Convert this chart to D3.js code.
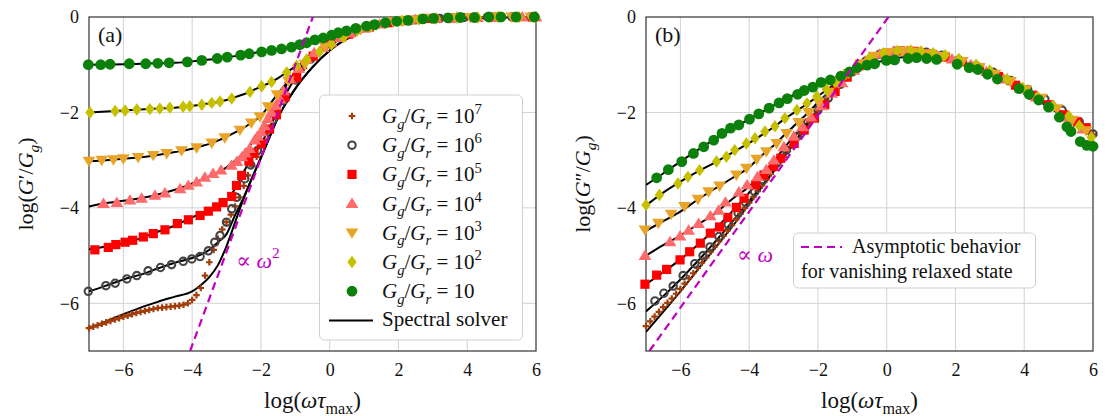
<!DOCTYPE html>
<html>
<head>
<meta charset="utf-8">
<script src="https://cdn.jsdelivr.net/npm/d3@7"></script>
<style>
  body { margin: 0; background: #fff; }
  svg text { font-family: "Liberation Serif", "DejaVu Serif", serif; fill: #111; }
</style>
</head>
<body>
<div id="chart"></div>
<script>
// ---- values (log10 scale) ----
const xTicks = [-6, -4, -2, 0, 2, 4, 6];
const yTicks = [-6, -4, -2, 0];
const ratioExp = [7, 6, 5, 4, 3, 2, 1];

// spectral solver curves, sampled on one frequency grid
const solverX = [-7,-6.5,-6,-5.5,-5,-4.5,-4,-3.75,-3.5,-3.25,-3,-2.75,-2.5,-2.25,-2,-1.75,-1.5,-1.25,-1,-0.5,0,0.5,1,1.5,2,3,4,5,6];
const storSolver1 = [-1.0,-0.995,-0.99,-0.98,-0.97,-0.96,-0.93,-0.91,-0.89,-0.87,-0.84,-0.82,-0.79,-0.76,-0.73,-0.71,-0.68,-0.65,-0.61,-0.5,-0.39,-0.29,-0.2,-0.13,-0.08,-0.03,-0.01,0,0];
const storSolver2 = [-2.0,-1.98,-1.96,-1.94,-1.92,-1.9,-1.86,-1.84,-1.81,-1.78,-1.74,-1.68,-1.62,-1.54,-1.46,-1.38,-1.28,-1.16,-1.04,-0.83,-0.6,-0.38,-0.24,-0.15,-0.09,-0.03,-0.01,0,0];
const storSolver3 = [-3.02,-3.0,-2.97,-2.94,-2.89,-2.83,-2.76,-2.71,-2.66,-2.59,-2.51,-2.42,-2.32,-2.2,-2.07,-1.84,-1.6,-1.38,-1.17,-0.85,-0.56,-0.38,-0.23,-0.15,-0.09,-0.03,-0.01,0,0];
const storSolver4 = [-3.97,-3.9,-3.85,-3.8,-3.72,-3.62,-3.49,-3.42,-3.34,-3.25,-3.15,-3.01,-2.85,-2.63,-2.4,-2.05,-1.76,-1.42,-1.17,-0.82,-0.56,-0.37,-0.23,-0.15,-0.09,-0.03,-0.01,0,0];
const storSolver5 = [-4.87,-4.81,-4.74,-4.64,-4.5,-4.37,-4.2,-4.13,-4.07,-3.98,-3.84,-3.6,-3.25,-2.92,-2.66,-2.32,-1.95,-1.58,-1.28,-0.87,-0.57,-0.37,-0.23,-0.15,-0.09,-0.03,-0.01,0,0];
const storSolver6 = [-5.75,-5.63,-5.5,-5.4,-5.27,-5.15,-5.05,-4.98,-4.88,-4.72,-4.55,-4.15,-3.78,-3.36,-2.95,-2.52,-2.1,-1.78,-1.5,-1.05,-0.7,-0.46,-0.29,-0.18,-0.1,-0.04,-0.015,-0.005,0];
const storSolver7 = [-6.53,-6.38,-6.23,-6.09,-5.97,-5.86,-5.75,-5.62,-5.45,-5.2,-4.8,-4.3,-3.8,-3.36,-2.95,-2.52,-2.1,-1.78,-1.5,-1.05,-0.7,-0.46,-0.29,-0.18,-0.1,-0.04,-0.015,-0.005,0];

const lossSolver1 = [-3.52,-3.28,-3.03,-2.79,-2.56,-2.35,-2.14,-2.04,-1.94,-1.84,-1.74,-1.65,-1.57,-1.49,-1.4,-1.34,-1.27,-1.2,-1.1,-0.99,-0.9,-0.84,-0.82,-0.85,-0.93,-1.2,-1.58,-2.02,-2.52];
const lossSolver2 = [-3.95,-3.68,-3.45,-3.24,-3.05,-2.85,-2.64,-2.53,-2.41,-2.29,-2.15,-2.03,-1.91,-1.79,-1.66,-1.53,-1.4,-1.26,-1.12,-0.9,-0.77,-0.72,-0.74,-0.8,-0.9,-1.18,-1.56,-2.0,-2.5];
const lossSolver3 = [-4.48,-4.28,-4.08,-3.83,-3.6,-3.38,-3.15,-2.98,-2.82,-2.67,-2.49,-2.32,-2.15,-1.98,-1.79,-1.62,-1.45,-1.29,-1.14,-0.9,-0.77,-0.72,-0.74,-0.8,-0.9,-1.18,-1.56,-2.0,-2.5];
const lossSolver4 = [-5.0,-4.78,-4.58,-4.35,-4.12,-3.82,-3.55,-3.38,-3.2,-3.0,-2.76,-2.55,-2.36,-2.16,-1.94,-1.73,-1.52,-1.31,-1.14,-0.9,-0.77,-0.72,-0.74,-0.8,-0.9,-1.18,-1.56,-2.0,-2.5];
const lossSolver5 = [-5.6,-5.35,-5.08,-4.78,-4.45,-4.08,-3.68,-3.47,-3.28,-3.08,-2.88,-2.67,-2.44,-2.2,-1.96,-1.74,-1.52,-1.32,-1.14,-0.9,-0.77,-0.72,-0.74,-0.8,-0.9,-1.18,-1.56,-2.0,-2.5];
const lossSolver6 = [-6.17,-5.85,-5.5,-5.12,-4.72,-4.3,-3.86,-3.64,-3.42,-3.18,-2.94,-2.7,-2.45,-2.2,-1.96,-1.74,-1.52,-1.32,-1.14,-0.9,-0.77,-0.72,-0.74,-0.8,-0.9,-1.18,-1.56,-2.0,-2.5];
const lossSolver7 = [-6.6,-6.18,-5.75,-5.3,-4.85,-4.4,-3.92,-3.68,-3.44,-3.2,-2.95,-2.7,-2.45,-2.2,-1.96,-1.74,-1.52,-1.32,-1.14,-0.9,-0.77,-0.72,-0.74,-0.8,-0.9,-1.18,-1.56,-2.0,-2.48];

// asymptotes for vanishing relaxed state
const asymStorX = [-4.06, -0.49], asymStorY = [-7, 0];
const asymLossX = [-6.9, 0.05],  asymLossY = [-7, 0];

// marker data, panel (a): log(G'/Gg)
const storGreenX = [-7.02,-6.66,-6.39,-5.83,-5.35,-5.0,-4.67,-4.14,-3.72,-3.27,-2.98,-2.59,-2.34,-1.98,-1.69,-1.40,-1.11,-0.87,-0.67,-0.43,-0.19,0.06,0.25,0.49,0.76,1.07,1.31,1.62,1.95,2.28,2.71,3.02,3.44,3.80,4.21,4.63,4.98,5.42,5.95];
const storGreenY = [-1.0,-1.0,-0.99,-0.98,-0.98,-0.97,-0.96,-0.94,-0.91,-0.87,-0.84,-0.80,-0.77,-0.73,-0.70,-0.67,-0.63,-0.58,-0.54,-0.48,-0.44,-0.38,-0.33,-0.29,-0.24,-0.19,-0.16,-0.12,-0.09,-0.07,-0.04,-0.03,-0.02,-0.01,-0.01,0,0,0,0];
const storYellowX = [-6.97,-6.24,-5.95,-5.61,-5.23,-4.94,-4.65,-4.26,-4.07,-3.72,-3.43,-3.19,-2.85,-2.32,-1.98,-1.69,-1.25,-0.96,-0.67,-0.3,0.05,0.39,0.8,1.2,1.6,2.1,2.6,3.1,3.7,4.3,4.9,5.5,6.0];
const storYellowY = [-2.0,-1.97,-1.96,-1.94,-1.93,-1.92,-1.9,-1.88,-1.87,-1.84,-1.8,-1.77,-1.71,-1.57,-1.45,-1.36,-1.16,-1.02,-0.89,-0.73,-0.58,-0.42,-0.29,-0.2,-0.13,-0.08,-0.05,-0.03,-0.01,-0.01,0,0,0];
const storOrangeX = [-7.0,-6.63,-6.29,-6.0,-5.57,-5.13,-4.74,-4.31,-3.87,-3.43,-3.05,-2.61,-2.28,-2.03,-1.79,-1.53,-1.2,-0.72,-0.14,0.44,0.9,1.35,1.85,2.4,2.95,3.5,4.1,4.7,5.3,5.85];
const storOrangeY = [-3.02,-3.0,-2.99,-2.97,-2.94,-2.9,-2.86,-2.8,-2.74,-2.64,-2.53,-2.37,-2.22,-2.09,-1.88,-1.63,-1.34,-0.99,-0.62,-0.41,-0.26,-0.17,-0.1,-0.06,-0.03,-0.02,-0.01,0,0,0];
const storPinkX = [-6.58,-6.19,-5.81,-5.47,-5.08,-4.79,-4.35,-4.11,-3.87,-3.63,-3.39,-3.16,-2.86,-2.7,-2.55,-2.45,-2.33,-2.18,-2.1,-1.99,-1.9,-1.8,-1.7,-1.56,-1.45,-1.35,-1.16,-0.9,-0.67,-0.45,-0.19,0.05,0.3,0.6,1.0,1.45,2.0,2.5,3.1,3.7,4.3,4.9,5.6,6.0];
const storPinkY = [-3.91,-3.89,-3.84,-3.8,-3.74,-3.69,-3.6,-3.53,-3.46,-3.36,-3.28,-3.21,-3.11,-3.03,-2.93,-2.85,-2.76,-2.58,-2.5,-2.41,-2.28,-2.13,-2.0,-1.85,-1.72,-1.55,-1.3,-1.08,-0.89,-0.75,-0.64,-0.53,-0.43,-0.34,-0.24,-0.15,-0.09,-0.05,-0.03,-0.01,-0.01,0,0,0];
const storRedX = [-6.83,-6.44,-6.22,-5.95,-5.73,-5.42,-5.13,-4.79,-4.43,-4.11,-3.77,-3.53,-3.29,-3.1,-2.85,-2.71,-2.56,-2.35,-2.2,-1.99,-1.75,-1.55,-1.3,-0.96,-0.48,0.0,0.55,1.15,1.7,2.3,2.9,3.55,4.2,4.8,5.4,5.9];
const storRedY = [-4.88,-4.83,-4.77,-4.72,-4.68,-4.61,-4.54,-4.46,-4.33,-4.25,-4.16,-4.07,-3.98,-3.89,-3.76,-3.53,-3.32,-3.02,-2.85,-2.65,-2.35,-2.05,-1.68,-1.27,-0.82,-0.56,-0.36,-0.21,-0.12,-0.07,-0.03,-0.02,-0.01,0,0,0];
const storGrayX = [-7.02,-6.51,-6.24,-5.9,-5.61,-5.28,-4.92,-4.6,-4.26,-4.01,-3.77,-3.53,-3.34,-3.19,-3.0,-2.85,-2.71,-2.47,-2.3,-2.1,-1.9,-1.65,-1.35,-1.0,-0.55,0.0,0.6,1.2,1.8,2.5,3.2,3.9,4.6,5.3,5.9];
const storGrayY = [-5.75,-5.63,-5.58,-5.49,-5.42,-5.32,-5.25,-5.19,-5.12,-5.07,-5.02,-4.9,-4.72,-4.58,-4.3,-4.02,-3.78,-3.39,-3.1,-2.8,-2.5,-2.15,-1.75,-1.32,-0.88,-0.56,-0.34,-0.2,-0.11,-0.06,-0.03,-0.01,0,0,0];
const brownX = [-7,-6.875,-6.75,-6.625,-6.5,-6.375,-6.25,-6.125,-6,-5.875,-5.75,-5.625,-5.5,-5.375,-5.25,-5.125,-5,-4.875,-4.75,-4.625,-4.5,-4.375,-4.25,-4.125,-4,-3.875,-3.75,-3.625,-3.5,-3.375,-3.25,-3.125,-3,-2.875,-2.75,-2.625,-2.5,-2.375,-2.25,-2.125,-2,-1.75,-1.5,-1.25,-1,-0.75,-0.5,-0.25,0,0.25,0.5,0.75,1,1.25,1.5,1.75,2,2.25,2.5,2.75,3,3.25,3.5,3.75,4,4.25,4.5,4.75,5,5.25,5.5,5.75,6];
const storBrownY = [-6.52,-6.49,-6.46,-6.43,-6.4,-6.37,-6.34,-6.31,-6.28,-6.26,-6.23,-6.2,-6.18,-6.16,-6.14,-6.12,-6.1,-6.09,-6.08,-6.07,-6.06,-6.05,-6.03,-6.0,-5.93,-5.83,-5.68,-5.42,-5.14,-4.88,-4.65,-4.45,-4.3,-4.14,-3.97,-3.78,-3.54,-3.32,-3.12,-2.93,-2.74,-2.33,-1.96,-1.62,-1.32,-1.07,-0.86,-0.7,-0.56,-0.45,-0.36,-0.29,-0.23,-0.18,-0.14,-0.11,-0.08,-0.06,-0.05,-0.04,-0.03,-0.02,-0.02,-0.01,-0.01,-0.01,0,0,0,0,0,0,0];

// marker data, panel (b): log(G''/Gg)
const lossGreenX = [-6.69,-6.35,-5.96,-5.62,-5.32,-5.03,-4.79,-4.54,-4.3,-3.99,-3.72,-3.42,-3.13,-2.89,-2.59,-2.4,-2.15,-1.91,-1.64,-1.33,-1.08,-0.86,-0.57,-0.35,-0.01,0.23,0.62,0.87,1.16,1.45,2.05,2.4,2.65,2.93,3.22,3.85,4.14,4.42,4.71,5.02,5.24,5.36,5.63,5.82,6.0];
const lossGreenY = [-3.37,-3.2,-3.03,-2.86,-2.72,-2.58,-2.44,-2.33,-2.26,-2.14,-2.03,-1.91,-1.8,-1.71,-1.62,-1.54,-1.47,-1.37,-1.32,-1.24,-1.15,-1.06,-1.01,-0.98,-0.91,-0.9,-0.87,-0.85,-0.87,-0.89,-0.99,-1.06,-1.1,-1.2,-1.3,-1.5,-1.62,-1.74,-1.89,-2.1,-2.3,-2.4,-2.61,-2.69,-2.71];
const lossYellowX = [-7.0,-6.61,-6.07,-5.78,-5.44,-4.95,-4.66,-4.42,-4.08,-3.83,-3.54,-3.25,-2.96,-2.61,-2.32,-2.03,-1.75,-1.5,-1.2,-0.85,-0.5,-0.1,0.3,0.7,1.0,1.35,1.7,2.1,2.6,3.0,3.5,3.95,4.4,4.85,5.3,5.6,5.95];
const lossYellowY = [-3.94,-3.73,-3.49,-3.35,-3.21,-3.03,-2.93,-2.79,-2.65,-2.54,-2.4,-2.29,-2.12,-1.95,-1.81,-1.66,-1.52,-1.37,-1.2,-1.0,-0.86,-0.76,-0.71,-0.7,-0.72,-0.76,-0.8,-0.88,-1.0,-1.12,-1.3,-1.48,-1.68,-1.86,-2.08,-2.28,-2.52];
const lossOrangeX = [-7.03,-6.64,-6.27,-5.88,-5.49,-5.18,-4.86,-4.37,-4.08,-3.78,-3.5,-3.2,-2.91,-2.56,-2.27,-1.98,-1.7,-1.4,-1.1,-0.75,-0.35,0.05,0.45,0.85,1.25,1.65,2.2,2.7,3.15,3.6,4.05,4.5,4.95,5.4,5.8];
const lossOrangeY = [-4.46,-4.32,-4.13,-3.97,-3.82,-3.66,-3.54,-3.31,-3.17,-2.98,-2.82,-2.65,-2.44,-2.21,-2.0,-1.78,-1.58,-1.38,-1.18,-0.98,-0.82,-0.74,-0.71,-0.73,-0.77,-0.82,-0.93,-1.06,-1.2,-1.35,-1.52,-1.7,-1.92,-2.16,-2.38];
const lossPinkX = [-7.03,-6.3,-6.01,-5.76,-5.47,-5.13,-4.89,-4.69,-4.3,-4.06,-3.76,-3.5,-3.28,-2.99,-2.7,-2.45,-2.2,-1.9,-1.6,-1.3,-0.95,-0.6,-0.2,0.2,0.6,1.0,1.45,1.9,2.45,2.9,3.4,3.9,4.35,4.8,5.25,5.7];
const lossPinkY = [-5.0,-4.71,-4.59,-4.47,-4.33,-4.17,-4.05,-3.88,-3.67,-3.52,-3.35,-3.2,-3.0,-2.72,-2.5,-2.3,-2.1,-1.86,-1.6,-1.38,-1.12,-0.92,-0.78,-0.72,-0.71,-0.74,-0.8,-0.88,-1.0,-1.14,-1.3,-1.5,-1.68,-1.88,-2.1,-2.35];
const lossRedX = [-7.03,-6.69,-6.4,-6.01,-5.73,-5.42,-5.13,-4.86,-4.62,-4.37,-4.15,-3.81,-3.57,-3.3,-3.08,-2.69,-2.4,-2.1,-1.8,-1.5,-1.15,-0.8,-0.4,0.0,0.4,0.8,1.25,1.7,2.2,2.7,3.25,3.75,4.25,4.7,5.15,5.55,5.8];
const lossRedY = [-5.6,-5.41,-5.29,-5.09,-4.92,-4.74,-4.53,-4.4,-4.2,-3.99,-3.8,-3.52,-3.31,-3.13,-2.96,-2.65,-2.37,-2.12,-1.84,-1.56,-1.26,-1.02,-0.84,-0.75,-0.71,-0.72,-0.77,-0.84,-0.94,-1.07,-1.25,-1.43,-1.64,-1.84,-2.05,-2.2,-2.32];
const lossGrayX = [-6.74,-6.48,-6.21,-5.92,-5.58,-5.34,-5.14,-4.88,-4.61,-4.32,-4.1,-3.84,-3.6,-3.21,-2.92,-2.6,-2.3,-2.0,-1.7,-1.35,-1.0,-0.6,-0.2,0.25,0.7,1.15,1.6,2.1,2.6,3.1,3.6,4.1,4.6,5.1,5.6,6.0];
const lossGrayY = [-5.95,-5.79,-5.64,-5.42,-5.17,-5.0,-4.82,-4.6,-4.35,-4.11,-3.89,-3.66,-3.42,-3.07,-2.79,-2.5,-2.22,-1.95,-1.7,-1.41,-1.15,-0.92,-0.78,-0.72,-0.71,-0.74,-0.8,-0.9,-1.02,-1.16,-1.33,-1.52,-1.72,-1.95,-2.2,-2.45];
const lossBrownY = [-6.48,-6.38,-6.28,-6.18,-6.08,-5.99,-5.9,-5.8,-5.7,-5.59,-5.48,-5.37,-5.26,-5.15,-5.04,-4.92,-4.81,-4.7,-4.59,-4.47,-4.36,-4.24,-4.12,-4.0,-3.89,-3.77,-3.65,-3.53,-3.41,-3.29,-3.17,-3.05,-2.93,-2.81,-2.69,-2.57,-2.45,-2.33,-2.21,-2.09,-1.97,-1.75,-1.53,-1.33,-1.15,-1.0,-0.89,-0.8,-0.75,-0.72,-0.71,-0.72,-0.74,-0.77,-0.81,-0.85,-0.9,-0.96,-1.03,-1.1,-1.18,-1.27,-1.36,-1.46,-1.56,-1.66,-1.76,-1.87,-1.98,-2.1,-2.22,-2.34,-2.46];

// ---- series table (drawing order: 10^7 first, 10 last) ----
const zip = (xs, ys) => xs.slice(0, Math.min(xs.length, ys.length)).map((x, i) => [x, ys[i]]);
const series = [
  {exp: 7, shape: 'plus',    color: '#a33d0c', stor: zip(brownX, storBrownY),      loss: zip(brownX, lossBrownY),      sS: storSolver7, sL: lossSolver7},
  {exp: 6, shape: 'ring',    color: '#454545', stor: zip(storGrayX, storGrayY),    loss: zip(lossGrayX, lossGrayY),    sS: storSolver6, sL: lossSolver6},
  {exp: 5, shape: 'square',  color: '#ff0000', stor: zip(storRedX, storRedY),      loss: zip(lossRedX, lossRedY),      sS: storSolver5, sL: lossSolver5},
  {exp: 4, shape: 'tri',     color: '#ff6b6b', stor: zip(storPinkX, storPinkY),    loss: zip(lossPinkX, lossPinkY),    sS: storSolver4, sL: lossSolver4},
  {exp: 3, shape: 'tridown', color: '#e8a428', stor: zip(storOrangeX, storOrangeY),loss: zip(lossOrangeX, lossOrangeY),sS: storSolver3, sL: lossSolver3},
  {exp: 2, shape: 'diamond', color: '#c6c000', stor: zip(storYellowX, storYellowY),loss: zip(lossYellowX, lossYellowY),sS: storSolver2, sL: lossSolver2},
  {exp: 1, shape: 'dot',     color: '#0b800b', stor: zip(storGreenX, storGreenY),  loss: zip(lossGreenX, lossGreenY),  sS: storSolver1, sL: lossSolver1}
];

const width = 1108, height = 416;
const plotTop = 17, plotBottom = 351;
const magenta = '#c000c0';

const svg = d3.select('#chart').append('svg')
  .attr('width', width)
  .attr('height', height);

function markerPath(shape, cx, cy) {
  const circ = r => `M${cx + r},${cy}A${r},${r} 0 1,1 ${cx - r},${cy}A${r},${r} 0 1,1 ${cx + r},${cy}Z`;
  switch (shape) {
    case 'plus':    return `M${cx - 3.3},${cy}h6.6M${cx},${cy - 3.3}v6.6`;
    case 'ring':    return circ(3.7);
    case 'square':  return `M${cx - 4.6},${cy - 4.6}h9.2v9.2h-9.2Z`;
    case 'tri':     return `M${cx},${cy - 6}L${cx + 6.4},${cy + 4.4}L${cx - 6.4},${cy + 4.4}Z`;
    case 'tridown': return `M${cx},${cy + 6}L${cx + 6.4},${cy - 4.4}L${cx - 6.4},${cy - 4.4}Z`;
    case 'diamond': return `M${cx},${cy - 6.2}L${cx + 4.7},${cy}L${cx},${cy + 6.2}L${cx - 4.7},${cy}Z`;
    default:        return circ(5.4);
  }
}
function styleMarker(sel, s) {
  if (s.shape === 'plus') sel.attr('fill', 'none').attr('stroke', s.color).attr('stroke-width', 2.2);
  else if (s.shape === 'ring') sel.attr('fill', 'none').attr('stroke', s.color).attr('stroke-width', 2.1);
  else sel.attr('fill', s.color).attr('stroke', 'none');
}

// rich text: parts with italic / sub / sup
function rich(text, parts, size) {
  let shift = 0;
  parts.forEach(p => {
    const off = p.sub ? size * 0.27 : p.sup ? -size * 0.42 : 0;
    text.append('tspan')
      .attr('dy', off - shift)
      .style('font-size', (p.sub || p.sup ? size * 0.7 : size) + 'px')
      .style('font-style', p.i ? 'italic' : 'normal')
      .text(p.t);
    shift = off;
  });
}

function drawPanel(cfg) {
  const x = d3.scaleLinear().domain([-7, 6]).range([cfg.left, cfg.right]);
  const y = d3.scaleLinear().domain([-7, 0]).range([plotBottom, plotTop]);
  const g = svg.append('g');

  g.append('clipPath').attr('id', 'clip' + cfg.id)
    .append('rect').attr('x', cfg.left).attr('y', plotTop)
    .attr('width', cfg.right - cfg.left).attr('height', plotBottom - plotTop);

  // grid
  g.append('g').selectAll('line').data(xTicks.filter(t => t > -7 && t < 6)).join('line')
    .attr('x1', d => x(d)).attr('x2', d => x(d)).attr('y1', plotTop).attr('y2', plotBottom)
    .attr('stroke', '#d2d2d2').attr('stroke-width', 1);
  g.append('g').selectAll('line').data(yTicks.filter(t => t > -7 && t < 0)).join('line')
    .attr('y1', d => y(d)).attr('y2', d => y(d)).attr('x1', cfg.left).attr('x2', cfg.right)
    .attr('stroke', '#d2d2d2').attr('stroke-width', 1);

  // frame
  g.append('rect').attr('x', cfg.left).attr('y', plotTop)
    .attr('width', cfg.right - cfg.left).attr('height', plotBottom - plotTop)
    .attr('fill', 'none').attr('stroke', '#333').attr('stroke-width', 1.2);

  // tick labels
  const fmt = d3.format('d');
  const xa = g.append('g').attr('transform', `translate(0,${plotBottom})`)
    .call(d3.axisBottom(x).tickValues(xTicks).tickFormat(fmt).tickSize(0).tickPadding(12));
  const ya = g.append('g').attr('transform', `translate(${cfg.left},0)`)
    .call(d3.axisLeft(y).tickValues(yTicks).tickFormat(fmt).tickSize(0).tickPadding(10));
  [xa, ya].forEach(a => {
    a.select('.domain').remove();
    a.attr('font-family', null).attr('font-size', 18);
    a.selectAll('text').attr('fill', '#111');
  });

  // solver lines
  const line = d3.line().x(d => x(d[0])).y(d => y(d[1])).curve(d3.curveMonotoneX);
  const lines = g.append('g').attr('clip-path', `url(#clip${cfg.id})`);
  series.forEach(s => {
    lines.append('path').datum(zip(solverX, s[cfg.solver]))
      .attr('d', line).attr('fill', 'none').attr('stroke', '#000').attr('stroke-width', 2);
  });

  // markers
  series.forEach(s => {
    const m = g.append('g');
    m.selectAll('path').data(s[cfg.key]).join('path')
      .attr('d', d => markerPath(s.shape, x(d[0]), y(d[1])))
      .call(styleMarker, s);
  });

  // asymptote
  g.append('path').attr('clip-path', `url(#clip${cfg.id})`)
    .datum(zip(cfg.asymX, cfg.asymY))
    .attr('d', d3.line().x(d => x(d[0])).y(d => y(d[1])))
    .attr('fill', 'none').attr('stroke', magenta).attr('stroke-width', 2.2)
    .attr('stroke-dasharray', '8,5');

  // panel tag
  g.append('text').attr('x', cfg.left + 9).attr('y', plotTop + 25)
    .style('font-size', '22px').text(`(${cfg.id})`);

  // axis labels
  const xl = g.append('text').attr('x', (cfg.left + cfg.right) / 2).attr('y', 408)
    .attr('text-anchor', 'middle');
  rich(xl, [{t: 'log('}, {t: 'ωτ', i: true}, {t: 'max', sub: true}, {t: ')'}], 23);

  const yl = g.append('text')
    .attr('transform', `translate(${cfg.left - 56},${(plotTop + plotBottom) / 2}) rotate(-90)`)
    .attr('text-anchor', 'middle');
  rich(yl, [{t: 'log('}, {t: 'G', i: true}, {t: cfg.prime}, {t: '/'}, {t: 'G', i: true},
            {t: 'g', i: true, sub: true}, {t: ')'}], 22);

  // slope note
  const note = g.append('text').attr('x', x(cfg.note[0])).attr('y', y(cfg.note[1]));
  rich(note, cfg.noteParts, 22);
  note.selectAll('tspan').style('fill', magenta);

  return {x, y, g};
}

drawPanel({id: 'a', left: 89, right: 536, key: 'stor', solver: 'sS', prime: '′',
  asymX: asymStorX, asymY: asymStorY, note: [-2.72, -5.25],
  noteParts: [{t: '∝ '}, {t: 'ω', i: true}, {t: '2', sup: true}]});
drawPanel({id: 'b', left: 646, right: 1093, key: 'loss', solver: 'sL', prime: '″',
  asymX: asymLossX, asymY: asymLossY, note: [-4.35, -5.13],
  noteParts: [{t: '∝ '}, {t: 'ω', i: true}]});

// legend (a)
const lg = svg.append('g');
lg.append('rect').attr('x', 319.5).attr('y', 95).attr('width', 203).attr('height', 245)
  .attr('rx', 5).attr('fill', '#fff').attr('stroke', '#cfcfcf').attr('stroke-width', 1);
series.forEach((s, i) => {
  const ry = 116 + i * 29.2;
  lg.append('path').attr('d', markerPath(s.shape, 352, ry)).call(styleMarker, s);
  const t = lg.append('text').attr('x', 382).attr('y', ry + 7);
  const parts = [{t: 'G', i: true}, {t: 'g', i: true, sub: true}, {t: '/'}, {t: 'G', i: true},
                 {t: 'r', i: true, sub: true}, {t: ' = 10'}];
  if (s.exp > 1) parts.push({t: String(s.exp), sup: true});
  rich(t, parts, 21);
});
const solverRow = 116 + 7 * 29.2;
lg.append('line').attr('x1', 329).attr('x2', 373).attr('y1', solverRow).attr('y2', solverRow)
  .attr('stroke', '#000').attr('stroke-width', 2);
lg.append('text').attr('x', 382).attr('y', solverRow + 6).style('font-size', '21px').text('Spectral solver');

// legend (b)
const lb = svg.append('g');
lb.append('rect').attr('x', 793.5).attr('y', 233).attr('width', 242).attr('height', 55)
  .attr('rx', 5).attr('fill', '#fff').attr('stroke', '#cfcfcf').attr('stroke-width', 1);
lb.append('line').attr('x1', 801).attr('x2', 842).attr('y1', 247).attr('y2', 247)
  .attr('stroke', magenta).attr('stroke-width', 2.2).attr('stroke-dasharray', '8,5');
lb.append('text').attr('x', 852).attr('y', 253).style('font-size', '20px').text('Asymptotic behavior');
lb.append('text').attr('x', 801).attr('y', 278).style('font-size', '20px').text('for vanishing relaxed state');
</script>
</body>
</html>
